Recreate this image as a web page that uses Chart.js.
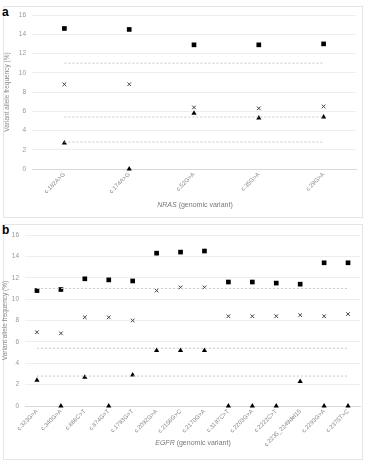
<!DOCTYPE html>
<html>
<head>
<meta charset="utf-8">
<script src="https://cdn.jsdelivr.net/npm/chart.js@4.4.1/dist/chart.umd.min.js"></script>
<style>
  body { margin: 0; background: #fff; font-family: "Liberation Sans", Arial, sans-serif; }
  #wrap { position: relative; width: 366px; height: 462px; overflow: hidden; }
  .box { position: absolute; border: 1px solid #e6e6e6; box-sizing: border-box; }
  .tag { position: absolute; font-weight: bold; font-size: 12px; color: #000; }
  .xtitle { position: absolute; font-size: 7px; color: #777; text-align: center; width: 366px; left: 0; }
  canvas { position: absolute; left: 0; }
</style>
</head>
<body>
<div id="wrap">
  <div class="box" style="left:3px; top:6px; width:360px; height:212px;"></div>
  <div class="box" style="left:3px; top:224px; width:360px; height:236px;"></div>
  <div class="tag" style="left:2px; top:5px;">a</div>
  <div class="tag" style="left:2px; top:223px;">b</div>
  <div id="boxA" style="position:absolute; left:0; top:0; width:366px; height:220px;"><canvas id="chartA"></canvas></div>
  <div id="boxB" style="position:absolute; left:0; top:225px; width:366px; height:235px;"><canvas id="chartB"></canvas></div>
  <div class="xtitle" style="top:201px; left:12px;"><i>NRAS</i> (genomic variant)</div>
  <div class="xtitle" style="top:439px; left:10px;"><i>EGFR</i> (genomic variant)</div>
</div>
<script>
// NRAS panel
const nrasLabels = ['c.182A>G', 'c.174A>G', 'c.52G>A', 'c.35G>A', 'c.29G>A'];
const nrasSquare = [14.6, 14.5, 12.9, 12.9, 13.0];
const nrasCross = [8.8, 8.8, 6.4, 6.3, 6.5];
const nrasTriangle = [2.7, 0, 5.8, 5.3, 5.4];

// EGFR panel
const egfrLabels = ['c.323G>A', 'c.340G>A', 'c.866C>T', 'c.874G>T', 'c.1793G>T', 'c.2092G>A', 'c.2156G>C',
    'c.2170G>A', 'c.3197C>T', 'c.2203G>A', 'c.2222C>T', 'c.2235_2249del15', 'c.2293G>A', 'c.2375T>C'];
const egfrSquare = [10.8, 10.9, 11.9, 11.8, 11.7, 14.3, 14.4, 14.5, 11.6, 11.6, 11.5, 11.4, 13.4, 13.4];
const egfrCross = [6.9, 6.8, 8.3, 8.3, 8.0, 10.8, 11.1, 11.1, 8.4, 8.4, 8.4, 8.5, 8.4, 8.6];
const egfrTriangle = [2.4, 0, 2.7, 0, 2.9, 5.2, 5.2, 5.2, 0, 0, 0, 2.3, 0, 0];

// dashed reference levels (same in both panels)
const refLines = [11.0, 5.4, 2.8];

// y axis
const yMin = 0;
const yMax = 16;
const yStep = 2;

function makePanel(canvasId, labels, square, cross, triangle, cfg) {
    const ds = [];
    refLines.forEach(v => {
        ds.push({
            data: labels.map(() => v),
            borderColor: '#c8c8c8',
            borderWidth: 1,
            borderDash: [2, 2],
            pointRadius: 0,
            showLine: true,
            fill: false
        });
    });
    ds.push({ data: square, pointStyle: 'rect', pointRadius: 3.3, backgroundColor: '#000', borderColor: '#000', borderWidth: 0, showLine: false, clip: false });
    ds.push({ data: cross, pointStyle: 'crossRot', pointRadius: 2.6, borderColor: '#444', borderWidth: 1, showLine: false, clip: false });
    ds.push({ data: triangle, pointStyle: 'triangle', pointRadius: 3, backgroundColor: '#000', borderColor: '#000', borderWidth: 0, showLine: false, clip: false });

    new Chart(document.getElementById(canvasId), {
        type: 'line',
        data: { labels: labels, datasets: ds },
        options: {
            responsive: true,
            maintainAspectRatio: false,
            animation: false,
            layout: { padding: cfg.padding },
            plugins: { legend: { display: false }, tooltip: { enabled: false } },
            scales: {
                x: {
                    offset: true,
                    grid: { display: false, drawTicks: false },
                    border: { display: true, color: '#d9d9d9' },
                    ticks: {
                        autoSkip: false, maxRotation: 45, minRotation: 45, padding: 2,
                        color: '#888', font: { size: 6, family: 'Liberation Sans' }
                    },
                    afterFit: s => { s.height = cfg.xHeight; }
                },
                y: {
                    min: yMin, max: yMax,
                    grid: { color: '#eeeeee', drawTicks: false },
                    border: { display: false },
                    ticks: { stepSize: yStep, padding: 6, color: '#999', font: { size: 6.5, family: 'Liberation Sans' } },
                    title: {
                        display: true, text: 'Variant allele frequency (%)', color: '#888',
                        font: { size: 6.5, family: 'Liberation Sans' }, padding: { top: 0, bottom: 0 }
                    },
                    afterFit: s => { s.width = cfg.yWidth; }
                }
            }
        }
    });
}

makePanel('chartA', nrasLabels, nrasSquare, nrasCross, nrasTriangle,
    { padding: { top: 15, right: 10, bottom: 11, left: 3 }, xHeight: 40, yWidth: 29 });
makePanel('chartB', egfrLabels, egfrSquare, egfrCross, egfrTriangle,
    { padding: { top: 10, right: 6, bottom: 14, left: 1 }, xHeight: 40, yWidth: 24 });
</script>
</body>
</html>
